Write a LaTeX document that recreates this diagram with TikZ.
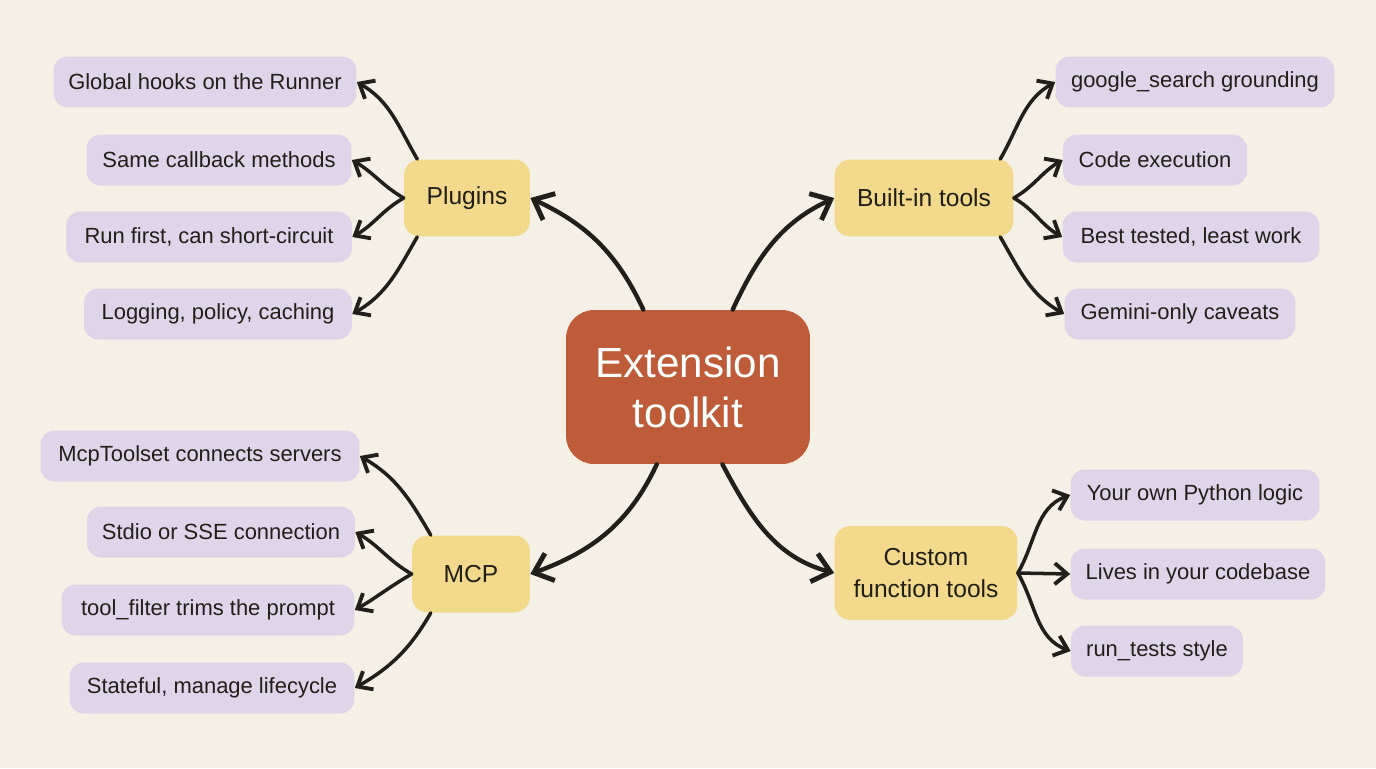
\documentclass[tikz,border=0pt]{standalone}
\usepackage{fontspec}
\setmainfont{Liberation Sans}
\usetikzlibrary{arrows.meta}
\definecolor{paper}{HTML}{F4F0E5}
\definecolor{inkdark}{HTML}{221E1A}
\definecolor{rust}{HTML}{BE5C3A}
\definecolor{straw}{HTML}{F2D98C}
\definecolor{lilac}{HTML}{DFD5EA}
\tikzset{
  leaf/.style={fill=lilac, rounded corners=8pt, minimum height=1.02cm,
    inner sep=0pt, font=\fontsize{12.5}{15}\selectfont, text=inkdark},
  branch/.style={fill=straw, rounded corners=9pt, minimum height=1.54cm,
    inner sep=0pt, align=center, font=\fontsize{14}{18}\selectfont, text=inkdark},
  mainlink/.style={-{Straight Barb[length=3.4mm, width=5.8mm, line width=2.8pt]}, inkdark,
    line width=2.5pt, line cap=round, line join=round},
  leaflink/.style={-{Straight Barb[length=2.5mm, width=4.2mm, line width=2.2pt]}, inkdark,
    line width=2pt, line cap=round, line join=round}
}
\newcommand{\leafbox}[4]{%
  \node[leaf, minimum width=#3cm] (#1) at (#2) {#4};}

\begin{document}
\begin{tikzpicture}[x=0.02cm, y=-0.02cm]
  \fill[paper] (0,0) rectangle (1376,768);
  \useasboundingbox (0,0) rectangle (1376,768);

  % hub
  \node[fill=rust, rounded corners=16pt, minimum width=4.88cm, minimum height=3.08cm,
        align=center, text=white, font=\fontsize{24}{28.5}\selectfont] (ext) at (688,387)
        {Extension\\toolkit};

  % four branches
  \node[branch, minimum width=2.52cm] (plug) at (467,198) {Plugins};
  \node[branch, minimum width=3.58cm] (built) at (924,198) {Built-in tools};
  \node[branch, minimum width=2.36cm] (mcp) at (471,574) {MCP};
  \node[branch, minimum width=3.66cm, minimum height=1.88cm] (cust) at (926,573)
        {Custom\\function tools};

  % leaves, plugins side
  \leafbox{hooks}{205,82}{6.06}{Global hooks on the Runner}
  \leafbox{callb}{219,160}{5.30}{Same callback methods}
  \leafbox{first}{209,237}{5.72}{Run first, can short-circuit}
  \leafbox{logpol}{218,314}{5.36}{Logging, policy, caching}
  % leaves, built-in side
  \leafbox{ground}{1195,82}{5.58}{google\_search grounding}
  \leafbox{codex}{1155,160}{3.68}{Code execution}
  \leafbox{tested}{1191,237}{5.14}{Best tested, least work}
  \leafbox{gemini}{1180,314}{4.62}{Gemini-only caveats}
  % leaves, mcp side
  \leafbox{toolset}{200,456}{6.38}{McpToolset connects servers}
  \leafbox{stdio}{221,532}{5.36}{Stdio or SSE connection}
  \leafbox{filter}{208,610}{5.86}{tool\_filter trims the prompt}
  \leafbox{state}{212,688}{5.70}{Stateful, manage lifecycle}
  % leaves, custom side
  \leafbox{python}{1195,495}{4.98}{Your own Python logic}
  \leafbox{lives}{1198,574}{5.10}{Lives in your codebase}
  \leafbox{runtests}{1157,651}{3.44}{run\_tests style}

  % hub to branches
  \draw[mainlink] (ext.120) to[out=115, in=-25] (plug.east);
  \draw[mainlink] (ext.60) to[out=65, in=205] (built.west);
  \draw[mainlink] (ext.-112) to[out=-115, in=20] (mcp.east);
  \draw[mainlink] (ext.-66) to[out=-62, in=165] (cust.west);

  % branches to leaves
  \draw[leaflink] (plug.142) to[out=120, in=-30] (hooks.east);
  \draw[leaflink] (plug.west) to[out=150, in=-30] (callb.east);
  \draw[leaflink] (plug.west) to[out=210, in=30] (first.east);
  \draw[leaflink] (plug.218) to[out=240, in=30] (logpol.east);

  \draw[leaflink] (built.27) to[out=60, in=210] (ground.west);
  \draw[leaflink] (built.east) to[out=30, in=210] (codex.west);
  \draw[leaflink] (built.east) to[out=-30, in=150] (tested.west);
  \draw[leaflink] (built.-27) to[out=-60, in=150] (gemini.west);

  \draw[leaflink] (mcp.136) to[out=120, in=-30] (toolset.east);
  \draw[leaflink] (mcp.west) to[out=150, in=-30] (stdio.east);
  \draw[leaflink] (mcp.west) to[out=210, in=30] (filter.east);
  \draw[leaflink] (mcp.224) to[out=240, in=30] (state.east);

  \draw[leaflink] (cust.east) to[out=60, in=200] (python.west);
  \draw[leaflink] (cust.east) -- (lives.west);
  \draw[leaflink] (cust.east) to[out=-60, in=160] (runtests.west);
\end{tikzpicture}
\end{document}
